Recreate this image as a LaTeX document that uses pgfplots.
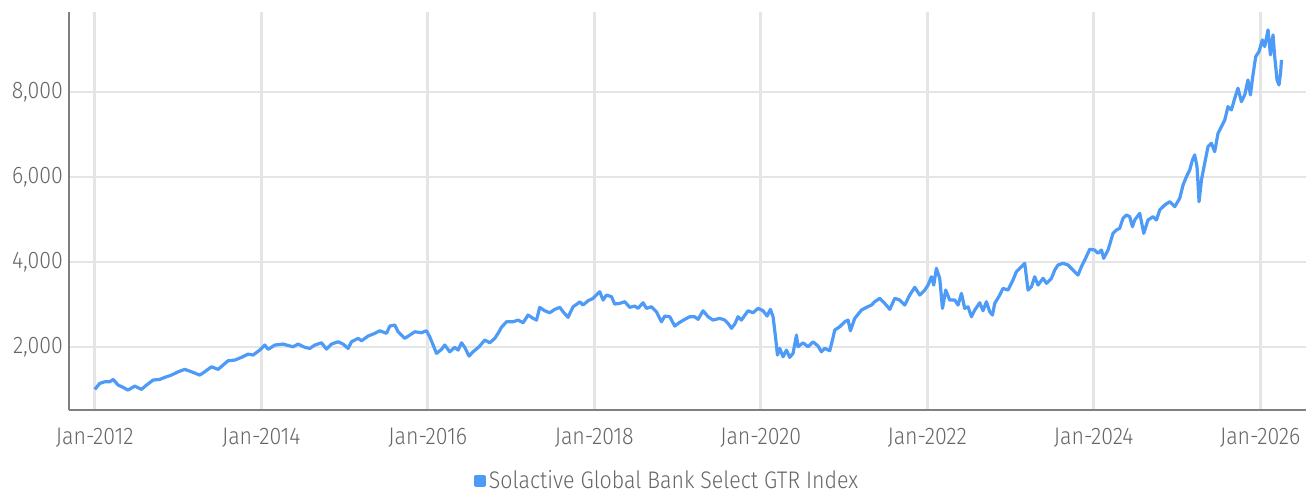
\documentclass[border=0pt]{standalone}
\usepackage{fontspec}
\IfFontExistsTF{Fira Sans Light}{\setmainfont{Fira Sans Light}[FakeStretch=0.89]}{\setmainfont{Fira Sans}[FakeStretch=0.89]}
\usepackage{pgfplots}
\pgfplotsset{compat=1.18}
\definecolor{lineblue}{HTML}{4D9BF7}
\definecolor{gridgray}{HTML}{E5E5E5}
\definecolor{axisgray}{HTML}{808080}
\definecolor{txtgray}{HTML}{666666}
\begin{document}
\begin{tikzpicture}
\path[use as bounding box] (0,0) rectangle (986.25pt,370.5pt);
\begin{axis}[
  at={(51.75pt,63pt)}, anchor=south west,
  scale only axis, width=927.75pt, height=298.5pt,
  xmin=2011.69, xmax=2026.55, ymin=520, ymax=9880,
  axis x line*=bottom, axis y line*=left,
  axis line style={draw=axisgray, line width=1.5pt, -},
  xtick={2012,2014,2016,2018,2020,2022,2024,2026},
  xticklabels={Jan-2012,Jan-2014,Jan-2016,Jan-2018,Jan-2020,Jan-2022,Jan-2024,Jan-2026},
  ytick={2000,4000,6000,8000},
  yticklabels={{2,000},{4,000},{6,000},{8,000}},
  major tick length=0pt,
  grid=major,
  major grid style={draw=gridgray, line width=2pt},
  tick label style={font=\fontsize{18}{21}\selectfont, text=txtgray},
  xticklabel style={anchor=base, yshift=-25.5pt, inner sep=0pt},
  yticklabel style={anchor=east, xshift=-4.5pt, inner sep=0pt},
  legend style={draw=none, at={(0.4838,-0.178)}, anchor=center, font=\fontsize{18}{21}\selectfont, text=txtgray, inner sep=0pt},
  legend image code/.code={\fill[lineblue] (-1.5pt,-3.4pt) rectangle (5.25pt,3.4pt);},
  clip=false,
]
\addplot[lineblue, line width=2.4pt, line join=round, mark=none] coordinates {
(2012.000,1005) (2012.060,1146) (2012.120,1184) (2012.180,1184) (2012.220,1240) (2012.280,1106)
(2012.340,1052) (2012.400,988) (2012.480,1082) (2012.561,1005) (2012.621,1106) (2012.700,1224)
(2012.781,1240) (2012.841,1287) (2012.921,1341) (2013.001,1419) (2013.081,1475) (2013.162,1419)
(2013.261,1341) (2013.321,1419) (2013.402,1537) (2013.481,1475) (2013.541,1577) (2013.601,1678)
(2013.682,1694) (2013.762,1758) (2013.841,1835) (2013.902,1812) (2013.982,1929) (2014.042,2047)
(2014.082,1946) (2014.162,2047) (2014.262,2071) (2014.303,2047) (2014.382,2007) (2014.442,2071)
(2014.523,1993) (2014.583,1969) (2014.643,2047) (2014.723,2101) (2014.783,1953) (2014.843,2071)
(2014.923,2125) (2014.982,2071) (2015.043,1969) (2015.084,2125) (2015.163,2205) (2015.204,2148)
(2015.283,2259) (2015.363,2322) (2015.423,2384) (2015.504,2322) (2015.544,2494) (2015.604,2518)
(2015.643,2360) (2015.724,2205) (2015.784,2282) (2015.844,2360) (2015.924,2337) (2015.984,2384)
(2016.024,2242) (2016.064,2047) (2016.105,1852) (2016.165,1946) (2016.204,2047) (2016.264,1889)
(2016.324,1993) (2016.364,1929) (2016.405,2101) (2016.444,1993) (2016.496,1788) (2016.544,1889)
(2016.616,2007) (2016.685,2165) (2016.745,2101) (2016.805,2205) (2016.844,2322) (2016.885,2464)
(2016.945,2595) (2017.025,2595) (2017.085,2635) (2017.145,2572) (2017.205,2753) (2017.265,2675)
(2017.306,2635) (2017.345,2934) (2017.405,2854) (2017.465,2807) (2017.526,2887) (2017.586,2934)
(2017.625,2831) (2017.685,2699) (2017.745,2948) (2017.805,3028) (2017.826,3066) (2017.865,2988)
(2017.925,3089) (2017.986,3146) (2018.026,3224) (2018.066,3301) (2018.106,3106) (2018.147,3224)
(2018.207,3184) (2018.246,3012) (2018.306,3028) (2018.366,3066) (2018.426,2934) (2018.486,2965)
(2018.526,2911) (2018.586,3042) (2018.627,2911) (2018.687,2948) (2018.747,2831) (2018.807,2595)
(2018.847,2729) (2018.907,2713) (2018.967,2494) (2019.019,2572) (2019.087,2652) (2019.147,2713)
(2019.207,2713) (2019.247,2652) (2019.307,2854) (2019.367,2713) (2019.427,2635) (2019.508,2675)
(2019.568,2635) (2019.607,2558) (2019.648,2440) (2019.688,2541) (2019.727,2713) (2019.768,2635)
(2019.847,2854) (2019.907,2807) (2019.968,2911) (2020.028,2854) (2020.076,2729) (2020.116,2887)
(2020.148,2713) (2020.177,2242) (2020.201,1812) (2020.228,1969) (2020.268,1772) (2020.309,1929)
(2020.348,1758) (2020.388,1852) (2020.429,2282) (2020.448,2007) (2020.508,2101) (2020.568,2007)
(2020.628,2125) (2020.688,2024) (2020.729,1889) (2020.769,1969) (2020.829,1913) (2020.861,2165)
(2020.889,2400) (2020.949,2478) (2021.009,2595) (2021.049,2635) (2021.077,2384) (2021.129,2675)
(2021.210,2871) (2021.270,2934) (2021.330,2988) (2021.369,3066) (2021.429,3146) (2021.489,3028)
(2021.550,2887) (2021.610,3146) (2021.670,3106) (2021.730,2988) (2021.790,3224) (2021.850,3405)
(2021.910,3224) (2021.970,3341) (2022.010,3459) (2022.050,3654) (2022.078,3459) (2022.110,3852)
(2022.150,3617) (2022.183,2911) (2022.222,3341) (2022.270,3106) (2022.330,3106) (2022.370,2988)
(2022.411,3264) (2022.450,2911) (2022.490,2948) (2022.531,2713) (2022.571,2871) (2022.631,3042)
(2022.670,2854) (2022.711,3066) (2022.751,2831) (2022.783,2753) (2022.811,3028) (2022.871,3224)
(2022.910,3381) (2022.970,3341) (2023.030,3577) (2023.071,3772) (2023.131,3890) (2023.171,3969)
(2023.211,3341) (2023.252,3419) (2023.291,3654) (2023.331,3459) (2023.391,3617) (2023.432,3499)
(2023.492,3617) (2023.532,3812) (2023.571,3930) (2023.631,3969) (2023.691,3930) (2023.751,3812)
(2023.811,3694) (2023.852,3890) (2023.892,4047) (2023.952,4300) (2024.012,4282) (2024.052,4205)
(2024.093,4282) (2024.120,4087) (2024.172,4282) (2024.232,4675) (2024.273,4753) (2024.312,4793)
(2024.352,5028) (2024.393,5106) (2024.432,5066) (2024.465,4831) (2024.492,4988) (2024.553,5146)
(2024.601,4675) (2024.652,4988) (2024.712,5066) (2024.753,4988) (2024.793,5224) (2024.853,5341)
(2024.913,5419) (2024.973,5301) (2025.033,5499) (2025.073,5812) (2025.114,6007) (2025.153,6165)
(2025.186,6400) (2025.213,6518) (2025.241,6243) (2025.265,5419) (2025.294,5930) (2025.333,6323)
(2025.373,6713) (2025.414,6793) (2025.453,6595) (2025.493,7028) (2025.534,7184) (2025.574,7341)
(2025.613,7654) (2025.654,7577) (2025.694,7852) (2025.733,8087) (2025.774,7772) (2025.814,7930)
(2025.853,8283) (2025.882,7930) (2025.913,8400) (2025.946,8831) (2025.985,8949) (2026.026,9224)
(2026.054,9066) (2026.094,9459) (2026.123,8871) (2026.154,9341) (2026.174,8831) (2026.202,8283)
(2026.226,8165) (2026.246,8478) (2026.255,8753)
};
\addlegendentry{Solactive Global Bank Select GTR Index}
\end{axis}
\end{tikzpicture}
\end{document}
